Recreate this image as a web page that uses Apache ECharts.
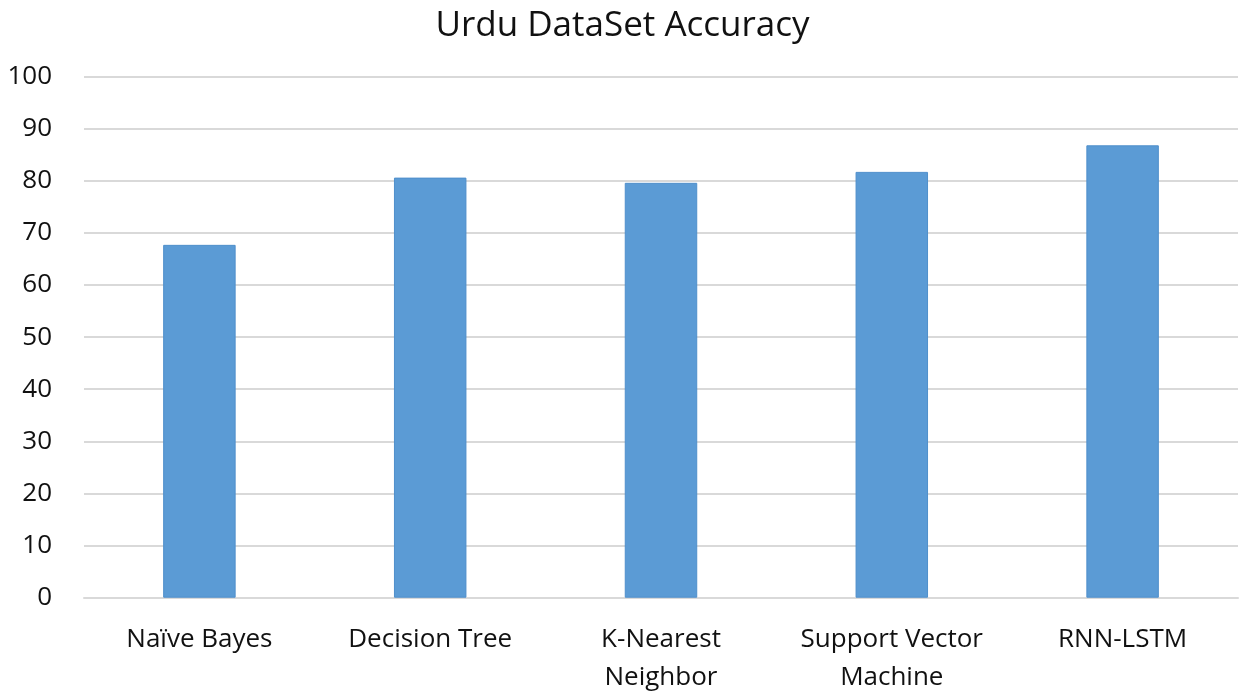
<!DOCTYPE html>
<html>
<head>
<meta charset="utf-8">
<script src="https://cdn.jsdelivr.net/npm/echarts@6/dist/echarts.min.js"></script>
<style>
html,body{margin:0;padding:0;background:#fff;}
#c{width:1245px;height:699px;}
</style>
</head>
<body>
<div id="c"></div>
<script>
const titleText = "Urdu DataSet Accuracy";
const categories = ["Naïve Bayes", "Decision Tree", "K-Nearest\nNeighbor", "Support Vector\nMachine", "RNN-LSTM"];
const accuracy = [67.7, 80.6, 79.6, 81.7, 86.8];
const yTicks = [0, 10, 20, 30, 40, 50, 60, 70, 80, 90, 100];

const chart = echarts.init(document.getElementById('c'), null, {renderer: 'canvas'});
chart.setOption({
  animation: false,
  backgroundColor: '#ffffff',
  textStyle: {fontFamily: 'Open Sans'},
  title: {
    text: titleText,
    left: 'center',
    top: 4,
    textStyle: {fontFamily: 'Open Sans', fontSize: 35, fontWeight: 'normal', color: '#111111'}
  },
  grid: {left: 84, right: 7, top: 76.5, bottom: 101.3, containLabel: false},
  xAxis: {
    type: 'category',
    data: categories,
    axisLine: {show: true, lineStyle: {color: '#d9d9d9', width: 2}},
    axisTick: {show: false},
    axisLabel: {
      interval: 0,
      margin: 23,
      fontFamily: 'Open Sans',
      fontSize: 26,
      color: '#111111',
      lineHeight: 38
    }
  },
  yAxis: {
    type: 'value',
    min: yTicks[0],
    max: yTicks[yTicks.length - 1],
    interval: 10,
    axisLine: {show: false},
    axisTick: {show: false},
    splitLine: {lineStyle: {color: '#d9d9d9', width: 2}},
    axisLabel: {
      margin: 32,
      fontFamily: 'Open Sans',
      fontSize: 26,
      color: '#111111'
    }
  },
  series: [{
    type: 'bar',
    data: accuracy,
    barWidth: '31.4%',
    itemStyle: {color: '#5b9bd5', borderColor: '#4f8fcb', borderWidth: 1}
  }]
});
</script>
</body>
</html>
